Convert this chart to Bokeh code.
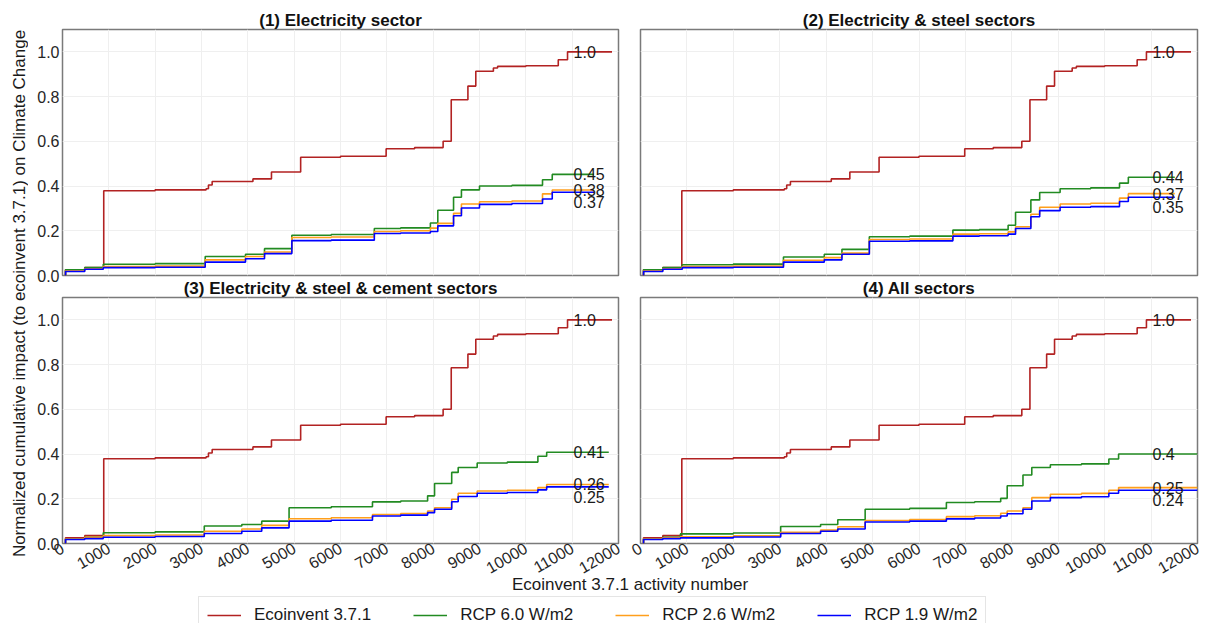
import math
from bokeh.plotting import figure
from bokeh.models import FixedTicker, NumeralTickFormatter, Legend, LegendItem, Range1d
from bokeh.layouts import row, column
from bokeh.embed import file_html
from bokeh.resources import INLINE
from bokeh.core.properties import value

FONT = "Liberation Sans"

# ---------------- data ----------------
X_TICKS = [0, 1000, 2000, 3000, 4000, 5000, 6000, 7000, 8000, 9000, 10000, 11000, 12000]
Y_TICKS = [0.0, 0.2, 0.4, 0.6, 0.8, 1.0]

SERIES_NAMES = ["Ecoinvent 3.7.1", "RCP 6.0 W/m2", "RCP 2.6 W/m2", "RCP 1.9 W/m2"]
SERIES_COLORS = ["#b22222", "#228b22", "#ff9f1c", "#0000ff"]

PANEL_TITLES = ["(1) Electricity sector", "(2) Electricity & steel sectors",
                "(3) Electricity & steel & cement sectors", "(4) All sectors"]

ECO_X = [60, 65, 480, 890, 2000, 3100, 3150, 3230, 4110, 4510, 5140, 6000, 6985, 7600,
         8215, 8390, 8750, 8920, 9300, 9390, 10000, 10700, 10900, 11860]
ECO_Y = [0.0, 0.026, 0.035, 0.379, 0.383, 0.388, 0.405, 0.420, 0.432, 0.463, 0.529, 0.533, 0.567, 0.572,
         0.600, 0.786, 0.847, 0.913, 0.928, 0.935, 0.938, 0.965, 1.000, 1.000]

P1_X = [60, 65, 480, 880, 2000, 3080, 3950, 4360, 4950, 5800, 6730, 7300, 7940, 8100, 8440, 8610, 9000, 9700, 10360, 10570, 11470]
P1_G = [0.0, 0.026, 0.035, 0.050, 0.053, 0.085, 0.095, 0.120, 0.180, 0.183, 0.210, 0.213, 0.235, 0.292, 0.350, 0.383, 0.400, 0.403, 0.428, 0.452, 0.452]
P1_O = [0.0, 0.020, 0.030, 0.040, 0.042, 0.070, 0.085, 0.105, 0.170, 0.172, 0.197, 0.200, 0.212, 0.233, 0.278, 0.320, 0.330, 0.333, 0.365, 0.382, 0.382]
P1_B = [0.0, 0.018, 0.028, 0.035, 0.037, 0.060, 0.075, 0.098, 0.156, 0.158, 0.188, 0.190, 0.197, 0.222, 0.267, 0.302, 0.318, 0.322, 0.342, 0.372, 0.372]

P2_X = [60, 65, 480, 900, 2000, 3080, 3960, 4340, 4930, 5800, 6730, 7300, 7920, 8080, 8410, 8600, 9040, 9700, 10320, 10510, 11510]
P2_G = [0.0, 0.026, 0.035, 0.048, 0.051, 0.083, 0.095, 0.117, 0.173, 0.176, 0.203, 0.205, 0.225, 0.283, 0.338, 0.371, 0.388, 0.392, 0.413, 0.439, 0.439]
P2_O = [0.0, 0.020, 0.030, 0.040, 0.042, 0.068, 0.080, 0.100, 0.161, 0.163, 0.185, 0.187, 0.195, 0.218, 0.274, 0.305, 0.320, 0.323, 0.346, 0.366, 0.366]
P2_B = [0.0, 0.018, 0.028, 0.035, 0.037, 0.060, 0.070, 0.095, 0.153, 0.155, 0.176, 0.178, 0.185, 0.210, 0.263, 0.290, 0.305, 0.308, 0.331, 0.350, 0.350]

P3_X = [60, 65, 480, 880, 2000, 3060, 3870, 4300, 4890, 5800, 6690, 7300, 7880, 8030, 8400, 8540, 8950, 9600, 10260, 10450, 11790]
P3_G = [0.0, 0.020, 0.028, 0.048, 0.052, 0.078, 0.085, 0.100, 0.160, 0.164, 0.186, 0.190, 0.213, 0.268, 0.318, 0.340, 0.360, 0.364, 0.390, 0.408, 0.408]
P3_O = [0.0, 0.020, 0.028, 0.035, 0.038, 0.055, 0.065, 0.081, 0.111, 0.115, 0.130, 0.134, 0.145, 0.160, 0.198, 0.225, 0.235, 0.238, 0.250, 0.264, 0.264]
P3_B = [0.0, 0.018, 0.022, 0.028, 0.031, 0.045, 0.055, 0.070, 0.100, 0.104, 0.123, 0.127, 0.138, 0.153, 0.187, 0.210, 0.225, 0.228, 0.240, 0.253, 0.253]

P4_X = [60, 65, 480, 860, 2000, 3020, 3880, 4250, 4840, 5800, 6590, 7200, 7760, 7900, 8240, 8430, 8830, 9500, 10090, 10300, 12000]
P4_G = [0.0, 0.020, 0.028, 0.043, 0.047, 0.076, 0.085, 0.106, 0.153, 0.157, 0.183, 0.187, 0.202, 0.258, 0.306, 0.340, 0.352, 0.356, 0.378, 0.400, 0.400]
P4_O = [0.0, 0.020, 0.025, 0.030, 0.034, 0.050, 0.060, 0.075, 0.103, 0.107, 0.120, 0.124, 0.135, 0.145, 0.160, 0.205, 0.220, 0.224, 0.238, 0.250, 0.250]
P4_B = [0.0, 0.018, 0.022, 0.025, 0.029, 0.045, 0.055, 0.065, 0.096, 0.100, 0.110, 0.114, 0.123, 0.133, 0.153, 0.190, 0.205, 0.209, 0.225, 0.238, 0.238]

P1_LABELS = ["1.0", "0.45", "0.38", "0.37"]
P2_LABELS = ["1.0", "0.44", "0.37", "0.35"]
P3_LABELS = ["1.0", "0.41", "0.26", "0.25"]
P4_LABELS = ["1.0", "0.4", "0.25", "0.24"]

LABEL_X = 11030

X_LABEL = "Ecoinvent 3.7.1 activity number"
Y_LABEL = "Normalized cumulative impact (to ecoinvent 3.7.1) on Climate Change"

# ---------------- panels ----------------
def make_panel(title, px, g, o, b, labels, show_x, show_y, fw, bl, br, bt, bb):
    p = figure(frame_width=fw, frame_height=246,
               x_range=Range1d(0, 12000), y_range=Range1d(0, 1.1),
               x_axis_location="below" if show_x else None,
               y_axis_location="left" if show_y else None,
               output_backend="svg", toolbar_location=None,
               min_border_left=bl, min_border_right=br, min_border_top=bt, min_border_bottom=bb)
    p.title.text = title
    p.title.text_font = FONT
    p.title.text_font_size = "17px"
    p.title.text_font_style = "bold"
    p.title.text_color = "#111111"
    p.title.align = "center"
    p.title.standoff = 0
    xt = FixedTicker(ticks=X_TICKS)
    yt = FixedTicker(ticks=Y_TICKS)
    p.xgrid.ticker = xt
    p.ygrid.ticker = yt
    p.grid.grid_line_color = "#efefef"
    p.grid.grid_line_width = 1
    for ax in p.xaxis:
        ax.ticker = xt
        ax.major_label_orientation = math.pi / 6
    for ax in p.yaxis:
        ax.ticker = yt
        ax.formatter = NumeralTickFormatter(format="0.0")
    for ax in list(p.xaxis) + list(p.yaxis):
        ax.axis_line_color = None
        ax.major_tick_line_color = None
        ax.minor_tick_line_color = None
        ax.major_tick_out = 0
        ax.major_tick_in = 0
        ax.minor_tick_out = 0
        ax.minor_tick_in = 0
        ax.major_label_standoff = 3
        ax.major_label_text_font = FONT
        ax.major_label_text_font_size = "16px"
        ax.major_label_text_color = "#262626"
    p.outline_line_color = "#7a7a7a"
    p.outline_line_width = 1.5
    p.background_fill_color = "white"
    p.border_fill_color = None

    p.step(ECO_X, ECO_Y, mode="after", line_color=SERIES_COLORS[0], line_width=1.6)
    p.step(px, g, mode="after", line_color=SERIES_COLORS[1], line_width=1.6)
    p.step(px, o, mode="after", line_color=SERIES_COLORS[2], line_width=1.6)
    p.step(px, b, mode="after", line_color=SERIES_COLORS[3], line_width=1.6)

    finals = [ECO_Y[-1], g[-1], o[-1], b[-1]]
    p.text(x=[LABEL_X] * 3, y=finals[:3], text=labels[:3],
           text_font=value(FONT), text_font_size="16px", text_color="#1a1a1a",
           text_align="left", text_baseline="alphabetic")
    p.text(x=[LABEL_X], y=finals[3:], text=labels[3:],
           text_font=value(FONT), text_font_size="16px", text_color="#1a1a1a",
           text_align="left", text_baseline="top", y_offset=4)
    return p

f1 = make_panel(PANEL_TITLES[0], P1_X, P1_G, P1_O, P1_B, P1_LABELS, False, True, 556, 34, 11, 29, 10)
f2 = make_panel(PANEL_TITLES[1], P2_X, P2_G, P2_O, P2_B, P2_LABELS, False, False, 557, 11, 13, 29, 10)
f3 = make_panel(PANEL_TITLES[2], P3_X, P3_G, P3_O, P3_B, P3_LABELS, True, True, 556, 34, 11, 21, 10)
f4 = make_panel(PANEL_TITLES[3], P4_X, P4_G, P4_O, P4_B, P4_LABELS, True, False, 557, 11, 13, 21, 10)

top_row = row(f1, f2)
bottom_row = row(f3, f4)
bottom_row.margin = (-9, 0, 0, 0)

# ---------------- y label strip ----------------
YL_H = 575
ylab = figure(width=28, height=YL_H, x_range=Range1d(0, 28), y_range=Range1d(0, YL_H),
              x_axis_location=None, y_axis_location=None, output_backend="svg",
              toolbar_location=None, min_border=0, title=None)
ylab.grid.visible = False
ylab.outline_line_color = None
ylab.text(x=[18.5], y=[YL_H - 293], text=[Y_LABEL], angle=math.pi / 2,
          text_font=value(FONT), text_font_size="17px", text_color="#1a1a1a",
          text_align="center", text_baseline="middle")

# ---------------- bottom strip: x label + legend ----------------
BF_H = 51
bf = figure(width=1210, height=BF_H, x_range=Range1d(0, 1210), y_range=Range1d(0, BF_H),
            x_axis_location=None, y_axis_location=None, output_backend="svg",
            toolbar_location=None, min_border=0, title=None)
bf.grid.visible = False
bf.outline_line_color = None
bf.background_fill_color = None
bf.border_fill_color = None
bf.margin = (-10, 0, 0, 0)
bf.text(x=[629.5], y=[39], text=[X_LABEL], text_font=value(FONT), text_font_size="17px",
        text_color="#1a1a1a", text_align="center", text_baseline="middle")
items = []
for name, col in zip(SERIES_NAMES, SERIES_COLORS):
    r = bf.line(x=[-200, -100], y=[-200, -200], line_color=col, line_width=1.6)
    items.append(LegendItem(label=name, renderers=[r]))
legend = Legend(items=items, orientation="horizontal", location=(198, -11),
                label_text_font=FONT, label_text_font_size="17px", label_text_color="#1a1a1a",
                glyph_width=34, glyph_height=20, label_standoff=13, spacing=42, padding=8,
                margin=0, border_line_color="#cccccc", border_line_width=1,
                background_fill_color="white", background_fill_alpha=1.0)
bf.add_layout(legend)

layout = column(row(ylab, column(top_row, bottom_row)), bf)

with open("out.html", "w") as fh:
    fh.write(file_html(layout, INLINE))
